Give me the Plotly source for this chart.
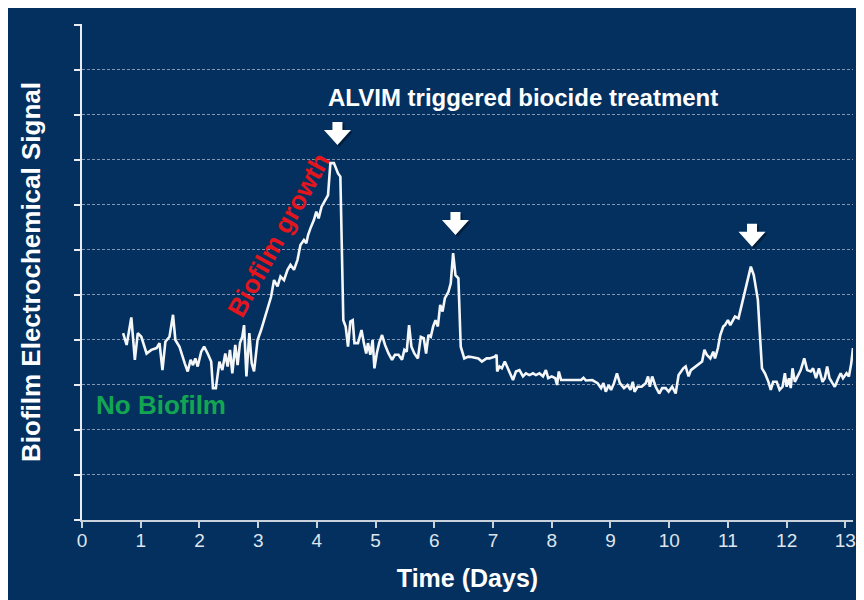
import plotly.graph_objects as go

# ---- data (days, signal units) ----
days = [0.70, 0.76, 0.84, 0.90, 0.95, 1.01, 1.10, 1.18, 1.27, 1.32, 1.37, 1.42, 1.49, 1.55, 1.59,
        1.66, 1.75, 1.80, 1.85, 1.89, 1.93, 1.97, 2.03, 2.08, 2.14, 2.20, 2.23, 2.28, 2.34, 2.39,
        2.44, 2.48, 2.52, 2.56, 2.61, 2.65, 2.69, 2.73, 2.76, 2.80, 2.85, 2.89, 2.93, 2.99, 3.05,
        3.10, 3.16, 3.22, 3.27, 3.33, 3.38, 3.44, 3.50, 3.55, 3.61, 3.67, 3.72, 3.78, 3.82, 3.85,
        3.89, 3.95, 3.99, 4.03, 4.08, 4.14, 4.19, 4.23, 4.29, 4.36, 4.40, 4.45, 4.49, 4.53, 4.57,
        4.61, 4.64, 4.70, 4.76, 4.80, 4.84, 4.87, 4.91, 4.95, 4.98, 5.02, 5.06, 5.11, 5.16, 5.22,
        5.28, 5.33, 5.39, 5.45, 5.49, 5.53, 5.57, 5.61, 5.66, 5.72, 5.77, 5.82, 5.86, 5.90, 5.94,
        5.98, 6.02, 6.06, 6.10, 6.14, 6.18, 6.24, 6.28, 6.32, 6.36, 6.41, 6.45, 6.51, 6.58, 6.63,
        6.75, 6.81, 6.89, 6.94, 7.03, 7.06, 7.07, 7.11, 7.15, 7.20, 7.24, 7.28, 7.34, 7.39, 7.45,
        7.51, 7.56, 7.62, 7.68, 7.73, 7.79, 7.85, 7.90, 7.94, 8.00, 8.06, 8.09, 8.12, 8.16, 8.24,
        8.38, 8.50, 8.54, 8.58, 8.69, 8.78, 8.84, 8.88, 8.92, 8.97, 9.01, 9.06, 9.11, 9.16, 9.23,
        9.29, 9.34, 9.38, 9.41, 9.46, 9.53, 9.60, 9.64, 9.67, 9.71, 9.77, 9.83, 9.88, 9.94, 9.99,
        10.05, 10.11, 10.16, 10.24, 10.28, 10.33, 10.37, 10.45, 10.50, 10.56, 10.60, 10.64, 10.70,
        10.75, 10.78, 10.83, 10.87, 10.92, 10.95, 11.00, 11.04, 11.08, 11.12, 11.18, 11.24, 11.29,
        11.35, 11.39, 11.44, 11.51, 11.54, 11.58, 11.63, 11.69, 11.73, 11.77, 11.83, 11.88, 11.93,
        11.97, 12.00, 12.04, 12.07, 12.10, 12.14, 12.18, 12.24, 12.30, 12.35, 12.41, 12.45, 12.50,
        12.55, 12.61, 12.65, 12.69, 12.73, 12.78, 12.82, 12.88, 12.92, 12.96, 13.02, 13.06, 13.10,
        13.13]
signal = [4.15, 3.89, 4.50, 3.56, 4.15, 4.07, 3.70, 3.78, 3.82, 3.93, 3.33, 3.96, 4.07, 4.56, 4.00,
          3.85, 3.48, 3.30, 3.56, 3.44, 3.59, 3.41, 3.74, 3.85, 3.70, 3.52, 2.93, 2.93, 3.52, 3.33,
          3.70, 3.41, 3.78, 3.26, 3.89, 3.44, 3.93, 4.07, 4.33, 3.19, 4.15, 3.48, 3.30, 4.00, 4.22,
          4.44, 4.74, 4.96, 5.33, 5.19, 5.41, 5.33, 5.56, 5.67, 5.56, 5.78, 6.11, 6.22, 6.15, 6.33,
          6.48, 6.67, 6.85, 6.70, 6.96, 7.11, 7.22, 7.93, 7.93, 7.70, 7.63, 4.44, 4.30, 3.85, 4.41,
          4.44, 3.93, 3.93, 4.22, 3.93, 3.70, 3.93, 3.67, 4.00, 3.37, 3.70, 3.93, 4.11, 3.89, 3.70,
          3.56, 3.67, 3.67, 3.56, 3.78, 3.74, 4.33, 3.85, 3.70, 3.59, 4.07, 4.04, 3.70, 4.11, 4.07,
          4.30, 4.44, 4.30, 4.78, 4.63, 4.93, 5.07, 5.26, 5.93, 5.44, 5.37, 3.85, 3.59, 3.63, 3.62,
          3.59, 3.52, 3.59, 3.59, 3.63, 3.67, 3.30, 3.41, 3.37, 3.52, 3.41, 3.30, 3.11, 3.30, 3.33,
          3.19, 3.26, 3.22, 3.26, 3.22, 3.26, 3.19, 3.33, 3.15, 3.19, 3.15, 3.00, 3.30, 3.11, 3.11,
          3.11, 3.11, 3.16, 3.10, 3.11, 3.04, 2.93, 3.04, 2.85, 3.00, 2.89, 3.04, 3.26, 3.04, 2.93,
          3.00, 2.89, 3.07, 2.85, 2.96, 2.96, 3.04, 3.19, 2.96, 3.19, 2.96, 2.81, 2.93, 2.93, 2.85,
          2.96, 2.81, 3.22, 3.37, 3.41, 3.19, 3.33, 3.41, 3.44, 3.52, 3.78, 3.67, 3.59,
          3.74, 3.59, 3.82, 4.11, 4.30, 4.33, 4.44, 4.33, 4.44, 4.52, 4.48, 4.81, 5.11,
          5.41, 5.63, 5.44, 4.89, 4.22, 3.37, 3.26, 3.07, 2.89, 3.07, 3.07, 2.89, 2.96,
          3.26, 2.96, 3.15, 2.93, 3.37, 3.07, 3.19, 3.33, 3.59, 3.33, 3.30, 3.37, 3.15,
          3.37, 3.07, 3.15, 3.41, 3.15, 3.04, 2.96, 3.15, 3.26, 3.15, 3.26, 3.19, 3.48,
          3.82]

x_ticks = list(range(0, 14))
x_tick_labels = [str(v) for v in x_ticks]
y_ticks = list(range(0, 12))

# biocide treatment arrows: (day, signal at arrow tip)
arrow_days = [4.35, 6.36, 11.41]
arrow_tips = [8.33, 6.33, 6.07]

NAVY = "#03305f"
FONT = "Liberation Sans, Arial, sans-serif"

fig = go.Figure()
fig.add_trace(go.Scatter(x=days, y=signal, mode="lines",
                         line=dict(color="#f4f6f8", width=2.6),
                         hoverinfo="skip", showlegend=False))

arrow_path = "M 0,0 L -13.5,15 L -5,15 L -5,23 L 5,23 L 5,15 L 13.5,15 Z"
shadow_path = "M 2,-2 L -11.5,13 L -3,13 L -3,21 L 7,21 L 7,13 L 15.5,13 Z"
shapes = []
for d, t in zip(arrow_days, arrow_tips):
    for p, c in ((shadow_path, "rgba(0,0,0,0.35)"), (arrow_path, "white")):
        shapes.append(dict(type="path", xref="x", yref="y", xsizemode="pixel", ysizemode="pixel",
                           xanchor=d, yanchor=t, path=p, fillcolor=c, line=dict(width=0),
                           layer="above"))

annotations = [
    dict(x=7.51, y=9.38, xref="x", yref="y", text="ALVIM triggered biocide treatment",
         showarrow=False, font=dict(family=FONT, size=24, color="white", weight="bold")),
    dict(x=1.35, y=2.56, xref="x", yref="y", text="No Biofilm", showarrow=False,
         font=dict(family=FONT, size=26, color="#14a552", weight="bold")),
    dict(x=3.34, y=6.34, xref="x", yref="y", text="Biofilm growth", showarrow=False,
         textangle=-61, font=dict(family=FONT, size=26, color="#e3151d", weight="bold")),
]

# page body adds an 8px offset; the figure fills the rest of the 864x600 window
fig.update_layout(
    width=856, height=592,
    margin=dict(l=74, r=8, t=16, b=80),
    paper_bgcolor=NAVY, plot_bgcolor=NAVY,
    shapes=shapes, annotations=annotations, showlegend=False,
    xaxis=dict(range=[0, 13.13], tickvals=x_ticks, ticktext=x_tick_labels,
               ticks="outside", ticklen=6, tickwidth=1.5, tickcolor="#c9d2dc",
               showline=True, linecolor="#c9d2dc", linewidth=2,
               showgrid=False, zeroline=False, ticklabelstandoff=-4,
               tickfont=dict(family=FONT, size=19, color="#dfe5ec"),
               title=dict(text="Time (Days)", standoff=20,
                          font=dict(family=FONT, size=25, color="white", weight="bold"))),
    yaxis=dict(range=[0, 11.02], tickvals=y_ticks, showticklabels=False,
               ticks="outside", ticklen=6, tickwidth=1.5, tickcolor="#e8edf2",
               showline=True, linecolor="#e8edf2", linewidth=1.5,
               showgrid=True, gridcolor="rgba(200,210,225,0.65)", gridwidth=1,
               griddash="3px,2px", zeroline=False,
               title=dict(text="Biofilm Electrochemical Signal", standoff=26,
                          font=dict(family=FONT, size=26, color="white", weight="bold"))),
)

fig.write_html("out.html")
